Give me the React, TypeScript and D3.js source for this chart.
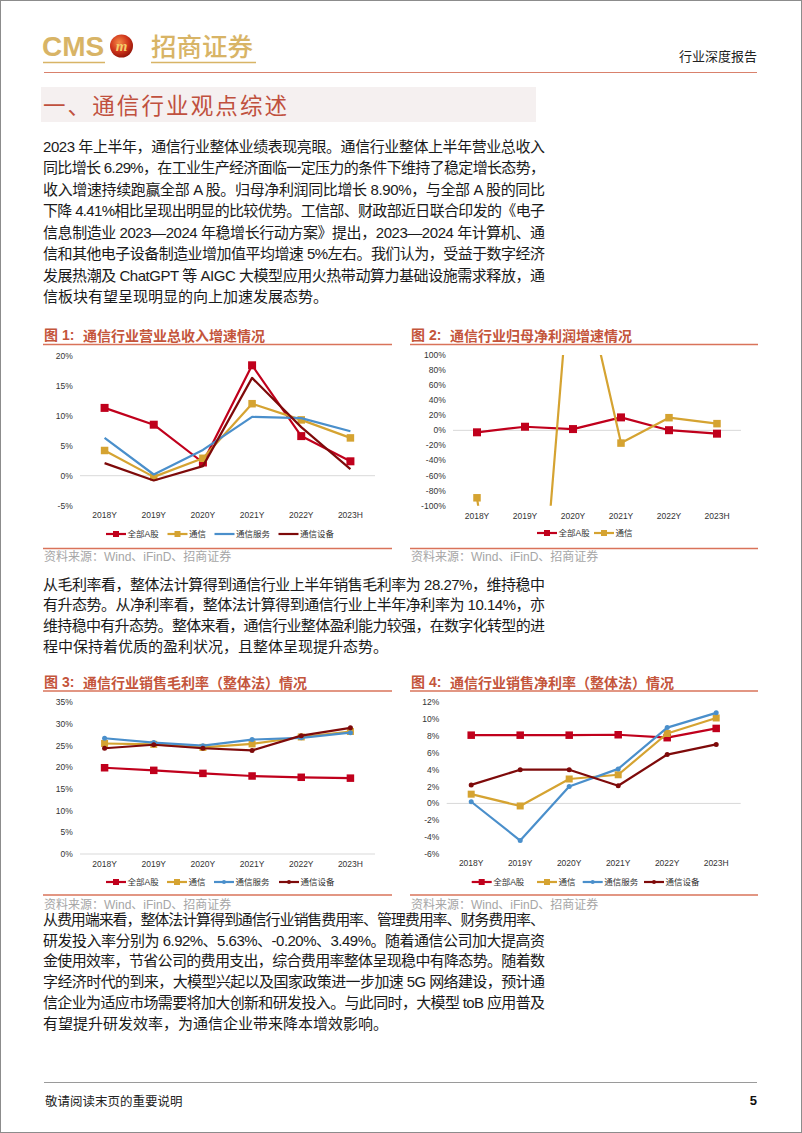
import React from "react";
import * as d3 from "d3";

// ---------- DATA ----------
const years = ["2018Y", "2019Y", "2020Y", "2021Y", "2022Y", "2023H"];

// 图1 营业总收入增速 (%)
const revAll = [11.3, 8.5, 2.2, 18.4, 6.6, 2.4];
const revTele = [4.2, -0.2, 2.9, 12.0, 9.3, 6.3];
const revService = [6.3, 0.2, 4.3, 9.8, 9.6, 7.4];
const revEquip = [2.1, -0.8, 1.6, 16.3, 8.1, 1.1];
const revTicks = [-5, 0, 5, 10, 15, 20];

// 图2 归母净利润增速 (%)
const npAll = [-2.6, 4.8, 1.7, 17.2, 0.2, -4.4];
const npTele = [-89.5, -518, 262, -16.9, 16.8, 8.9];
const npTicks = [-100, -80, -60, -40, -20, 0, 20, 40, 60, 80, 100];

// 图3 销售毛利率 (%)
const gmAll = [19.9, 19.3, 18.6, 18.0, 17.7, 17.5];
const gmTele = [25.5, 25.3, 24.6, 25.4, 27.0, 28.27];
const gmService = [26.7, 25.7, 25.0, 26.4, 26.8, 28.0];
const gmEquip = [24.4, 25.2, 24.4, 23.9, 27.3, 29.1];
const gmTicks = [0, 5, 10, 15, 20, 25, 30, 35];

// 图4 销售净利率 (%)
const nmAll = [8.1, 8.1, 8.1, 8.15, 7.8, 8.9];
const nmTele = [1.1, -0.3, 2.9, 3.4, 8.3, 10.14];
const nmService = [0.2, -4.4, 2.0, 4.1, 9.0, 10.75];
const nmEquip = [2.2, 4.0, 4.0, 2.1, 5.8, 7.0];
const nmTicks = [-6, -4, -2, 0, 2, 4, 6, 8, 10, 12];

const seriesNames = ["全部A股", "通信", "通信服务", "通信设备"];

// ---------- TEXT ----------
const para1 = [
  "2023 年上半年，通信行业整体业绩表现亮眼。通信行业整体上半年营业总收入",
  "同比增长 6.29%，在工业生产经济面临一定压力的条件下维持了稳定增长态势，",
  "收入增速持续跑赢全部 A 股。归母净利润同比增长 8.90%，与全部 A 股的同比",
  "下降 4.41%相比呈现出明显的比较优势。工信部、财政部近日联合印发的《电子",
  "信息制造业 2023—2024 年稳增长行动方案》提出，2023—2024 年计算机、通",
  "信和其他电子设备制造业增加值平均增速 5%左右。我们认为，受益于数字经济",
  "发展热潮及 ChatGPT 等 AIGC 大模型应用火热带动算力基础设施需求释放，通",
  "信板块有望呈现明显的向上加速发展态势。",
];
const para2 = [
  "从毛利率看，整体法计算得到通信行业上半年销售毛利率为 28.27%，维持稳中",
  "有升态势。从净利率看，整体法计算得到通信行业上半年净利率为 10.14%，亦",
  "维持稳中有升态势。整体来看，通信行业整体盈利能力较强，在数字化转型的进",
  "程中保持着优质的盈利状况，且整体呈现提升态势。",
];
const para3 = [
  "从费用端来看，整体法计算得到通信行业销售费用率、管理费用率、财务费用率、",
  "研发投入率分别为 6.92%、5.63%、-0.20%、3.49%。随着通信公司加大提高资",
  "金使用效率，节省公司的费用支出，综合费用率整体呈现稳中有降态势。随着数",
  "字经济时代的到来，大模型兴起以及国家政策进一步加速 5G 网络建设，预计通",
  "信企业为适应市场需要将加大创新和研发投入。与此同时，大模型 toB 应用普及",
  "有望提升研发效率，为通信企业带来降本增效影响。",
];

const RED = "#C0001C";
const GOLD = "#D5A331";
const BLUE = "#4A8FCB";
const DARK = "#7E0A0A";
const TITLE = "#C4553B";
const RULE = "#D9735A";
const FONT = "'Liberation Sans', Arial, 'Noto Sans CJK SC', sans-serif";
const CJK = "'Noto Sans CJK SC', sans-serif";

type Marker = "square" | "circle" | "none";
interface Series {
  name: string;
  values: number[];
  color: string;
  marker: Marker;
  size: number;
}

interface ChartProps {
  id: string;
  x0: number;
  x1: number;
  yTop: number;
  yBot: number;
  domain: [number, number];
  ticks: number[];
  labelRight: number;
  xLabelY: number;
  series: Series[];
  legendY: number;
  legendX: number[];
  clip?: boolean;
}

function MarkerShape({ m, x, y, size, color }: { m: Marker; x: number; y: number; size: number; color: string }) {
  if (m === "square")
    return <rect x={x - size / 2} y={y - size / 2} width={size} height={size} fill={color} />;
  if (m === "circle") return <circle cx={x} cy={y} r={size / 2} fill={color} />;
  return null;
}

function LineChart(p: ChartProps) {
  const x = d3.scalePoint<string>().domain(years).range([p.x0, p.x1]).padding(0.5);
  const y = d3.scaleLinear().domain(p.domain).range([p.yBot, p.yTop]);
  const line = d3
    .line<number>()
    .x((_, i) => x(years[i]) as number)
    .y((v) => y(v));
  const clipId = `clip-${p.id}`;
  return (
    <g>
      {p.clip && (
        <defs>
          <clipPath id={clipId}>
            <rect x={p.x0} y={p.yTop} width={p.x1 - p.x0} height={p.yBot - p.yTop} />
          </clipPath>
        </defs>
      )}
      <line x1={p.x0} x2={p.x1} y1={y(0)} y2={y(0)} stroke="#D9D9D9" strokeWidth={1} />
      {p.ticks.map((t) => (
        <text
          key={t}
          x={p.labelRight}
          y={y(t)}
          textAnchor="end"
          dominantBaseline="central"
          fontFamily={FONT}
          fontSize={8.5}
          fill="#333"
        >
          {t}%
        </text>
      ))}
      {years.map((yr) => (
        <text
          key={yr}
          x={x(yr) as number}
          y={p.xLabelY}
          textAnchor="middle"
          dominantBaseline="central"
          fontFamily={FONT}
          fontSize={8.5}
          fill="#333"
        >
          {yr}
        </text>
      ))}
      <g clipPath={p.clip ? `url(#${clipId})` : undefined}>
        {p.series.map((s) => (
          <g key={s.name}>
            <path d={line(s.values) || ""} fill="none" stroke={s.color} strokeWidth={2.2} strokeLinejoin="round" />
            {s.values.map((v, i) => (
              <MarkerShape key={i} m={s.marker} x={x(years[i]) as number} y={y(v)} size={s.size} color={s.color} />
            ))}
          </g>
        ))}
      </g>
      {p.series.map((s, i) => {
        const lx = p.legendX[i];
        return (
          <g key={"lg" + s.name}>
            <line x1={lx} x2={lx + 20} y1={p.legendY} y2={p.legendY} stroke={s.color} strokeWidth={2.2} />
            <MarkerShape
              m={s.marker}
              x={lx + 10}
              y={p.legendY}
              size={s.marker === "square" ? 6 : 4}
              color={s.color}
            />
            <text
              x={lx + 21.5}
              y={p.legendY}
              dominantBaseline="central"
              fontFamily={FONT}
              fontSize={8.5}
              fill="#333"
            >
              {s.name}
            </text>
          </g>
        );
      })}
    </g>
  );
}

function Para({ lines, x, y0, step, width }: { lines: string[]; x: number; y0: number; step: number; width: number }) {
  return (
    <g fontFamily={FONT} fontSize={15} fill="#1a1a1a">
      {lines.map((l, i) => (
        <text
          key={i}
          x={x}
          y={y0 + i * step}
          dominantBaseline="central"
          textLength={i < lines.length - 1 ? width : undefined}
          lengthAdjust="spacing"
        >
          {l}
        </text>
      ))}
    </g>
  );
}

function ChartHeader({ x, x2, y, num, title, srcLineY, srcY }: { x: number; x2: number; y: number; num: string; title: string; srcLineY: number; srcY: number }) {
  return (
    <g>
      <text x={x} y={y} dominantBaseline="central" fontFamily={FONT} fontSize={14} fontWeight="bold" fill={TITLE}>
        {`图 ${num}:`}
      </text>
      <text x={x + 39} y={y} dominantBaseline="central" fontFamily={CJK} fontSize={14} fontWeight="bold" fill={TITLE}>
        {title}
      </text>
      <line x1={x - 1} x2={x2} y1={y + 9.5} y2={y + 9.5} stroke={RULE} strokeWidth={1.3} />
      <line x1={x - 1} x2={x2} y1={srcLineY} y2={srcLineY} stroke={RULE} strokeWidth={1.3} />
      <text x={x} y={srcY} dominantBaseline="central" fontFamily={FONT} fontSize={12} fill="#A6A6A6">
        资料来源：Wind、iFinD、招商证券
      </text>
    </g>
  );
}

export default function App() {
  const s4 = (a: number[], b: number[], c: number[], d: number[], mk: Marker[], sz: number[]): Series[] =>
    [a, b, c, d].map((v, i) => ({
      name: seriesNames[i],
      values: v,
      color: [RED, GOLD, BLUE, DARK][i],
      marker: mk[i],
      size: sz[i],
    }));

  const chart1 = s4(revAll, revTele, revService, revEquip, ["square", "square", "none", "none"], [8, 7.5, 0, 0]);
  const chart2: Series[] = [
    { name: seriesNames[0], values: npAll, color: RED, marker: "square", size: 8 },
    { name: seriesNames[1], values: npTele, color: GOLD, marker: "square", size: 7.5 },
  ];
  const chart3 = s4(gmAll, gmTele, gmService, gmEquip, ["square", "square", "circle", "circle"], [7.5, 7, 5, 5]);
  const chart4 = s4(nmAll, nmTele, nmService, nmEquip, ["square", "square", "circle", "circle"], [7.5, 7, 5, 5]);

  return (
    <svg
      width={802}
      height={1133}
      style={{ position: "absolute", left: 0, top: 0, background: "#fff" }}
      xmlns="http://www.w3.org/2000/svg"
    >
      <defs>
        <radialGradient id="ball" cx="40%" cy="35%" r="70%">
          <stop offset="0%" stopColor="#F58A45" />
          <stop offset="55%" stopColor="#D1361C" />
          <stop offset="100%" stopColor="#8E1208" />
        </radialGradient>
      </defs>
      <rect x={0} y={0} width={802} height={1133} fill="#fff" />
      <rect x={0.5} y={0.5} width={801} height={1132} fill="none" stroke="#8C8C8C" strokeWidth={1} />

      {/* Header */}
      <text x={42} y={56} fontFamily="'Liberation Sans', Arial, sans-serif" fontWeight="bold" fontSize={28} fill="#D8B466">
        CMS
      </text>
      <line x1={43} x2={105} y1={62.5} y2={62.5} stroke="#D8B466" strokeWidth={1.5} />
      <circle cx={121.5} cy={46} r={11.5} fill="url(#ball)" />
      <text
        x={121.5}
        y={50.5}
        textAnchor="middle"
        fontFamily="'Liberation Serif', serif"
        fontStyle="italic"
        fontWeight="bold"
        fontSize={15}
        fill="#F4CE6A"
      >
        m
      </text>
      <text x={151} y={56} fontFamily={CJK} fontSize={25.5} fontWeight="500" fill="#D8B466">
        招商证券
      </text>
      <line x1={151} x2={256} y1={62.5} y2={62.5} stroke="#D8B466" strokeWidth={1.5} />
      <text x={757} y={55} textAnchor="end" dominantBaseline="central" fontFamily={CJK} fontSize={13} fill="#222">
        行业深度报告
      </text>
      <line x1={44} x2={757} y1={72.5} y2={72.5} stroke="#D9816C" strokeWidth={1.2} />

      {/* Section heading */}
      <rect x={41} y={87} width={495} height={35} fill="#F5F0F0" />
      <text
        x={43}
        y={104}
        dominantBaseline="central"
        fontFamily={CJK}
        fontSize={22.5}
        fill="#C0503E"
        textLength={244}
        lengthAdjust="spacing"
      >
        一、通信行业观点综述
      </text>

      <Para lines={para1} x={43} y0={146.5} step={21.45} width={502} />

      {/* Chart 1 */}
      <ChartHeader x={44} x2={392} y={335} num="1" title="通信行业营业总收入增速情况" srcLineY={548.5} srcY={557} />
      <LineChart
        id="c1"
        x0={80}
        x1={375}
        yTop={355.7}
        yBot={505.7}
        domain={[-5, 20]}
        ticks={revTicks}
        labelRight={72.7}
        xLabelY={515}
        series={chart1}
        legendY={534}
        legendX={[106, 167.5, 214.5, 278.5]}
      />

      {/* Chart 2 */}
      <ChartHeader x={411} x2={758} y={335} num="2" title="通信行业归母净利润增速情况" srcLineY={548.5} srcY={557} />
      <LineChart
        id="c2"
        x0={453}
        x1={741}
        yTop={355}
        yBot={505.7}
        domain={[-100, 100]}
        ticks={npTicks}
        labelRight={445.7}
        xLabelY={516}
        series={chart2}
        legendY={533}
        legendX={[537, 594]}
        clip
      />

      <Para lines={para2} x={43} y0={584} step={20.7} width={502} />

      {/* Chart 3 */}
      <ChartHeader x={44} x2={392} y={681.5} num="3" title="通信行业销售毛利率（整体法）情况" srcLineY={895} srcY={905} />
      <LineChart
        id="c3"
        x0={80}
        x1={375}
        yTop={702.3}
        yBot={854}
        domain={[0, 35]}
        ticks={gmTicks}
        labelRight={72.7}
        xLabelY={863.5}
        series={chart3}
        legendY={882}
        legendX={[106, 167, 214, 279]}
      />

      {/* Chart 4 */}
      <ChartHeader x={411} x2={758} y={681.5} num="4" title="通信行业销售净利率（整体法）情况" srcLineY={895} srcY={905} />
      <LineChart
        id="c4"
        x0={446.7}
        x1={740.7}
        yTop={702.3}
        yBot={854}
        domain={[-6, 12]}
        ticks={nmTicks}
        labelRight={439.3}
        xLabelY={863}
        series={chart4}
        legendY={882}
        legendX={[471.7, 537, 582.7, 644]}
      />

      <Para lines={para3} x={43} y0={919.3} step={20.75} width={502} />

      {/* Footer */}
      <line x1={44} x2={757} y1={1082.5} y2={1082.5} stroke="#9A9A9A" strokeWidth={1} />
      <text x={45} y={1100} dominantBaseline="central" fontFamily={CJK} fontSize={12.5} fill="#222">
        敬请阅读末页的重要说明
      </text>
      <text x={757} y={1100} textAnchor="end" dominantBaseline="central" fontFamily={FONT} fontWeight="bold" fontSize={13} fill="#111">
        5
      </text>
    </svg>
  );
}
